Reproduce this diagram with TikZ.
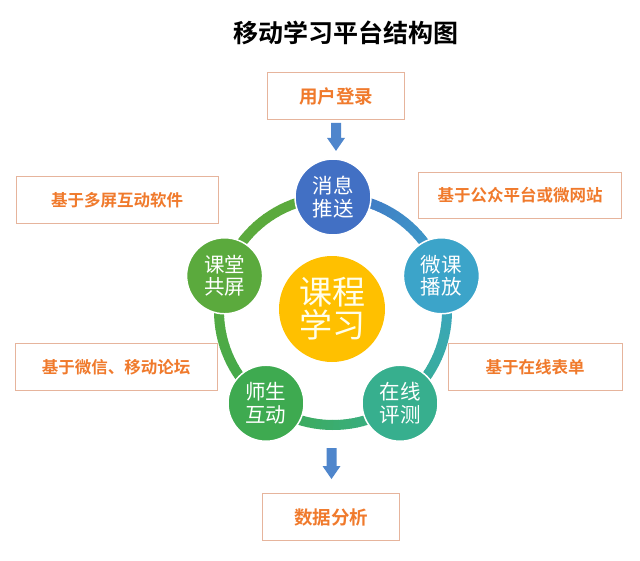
\documentclass[tikz,border=0pt]{standalone}
\usepackage{fontspec}
\usetikzlibrary{calc}
\newfontfamily\cjk{Noto Sans CJK SC}
\newfontfamily\cjkb{Noto Sans CJK SC Bold}
\definecolor{cblue}{HTML}{4270C4}
\definecolor{ccyan}{HTML}{3CA4C9}
\definecolor{cteal}{HTML}{37AF8E}
\definecolor{cgreen}{HTML}{3EAA50}
\definecolor{clime}{HTML}{5BAA3D}
\definecolor{cyel}{HTML}{FFC000}
\definecolor{boxline}{HTML}{E6B49C}
\definecolor{boxtext}{HTML}{F07A2C}
\definecolor{arrowc}{HTML}{4F86CC}
\tikzset{
  labelbox/.style={draw=boxline, line width=0.8pt, fill=white, inner sep=0pt, text=boxtext, font=\cjkb\fontsize{16.5}{18}\selectfont},
  bigbox/.style={labelbox, font=\cjkb\fontsize{18.5}{20}\selectfont},
  ball/.style={circle, draw=white, line width=1.5pt, minimum size=76pt, inner sep=0pt, text=white, align=center, font=\cjk\fontsize{20.5}{22.5}\selectfont},
  blockarrow/.style={fill=arrowc}
}
\begin{document}
\begin{tikzpicture}[x=1pt,y=-1pt]
\useasboundingbox[fill=white] (0,0) rectangle (640,560);
% title
\node[font=\cjkb\fontsize{25}{27}\selectfont, text=black] (title) at (346,33) {移动学习平台结构图};
% ring
\coordinate (c) at (333,311);
\def\R{114}
\foreach \a/\b/\ca/\cb in {-90/-18/cblue/ccyan, -18/54/ccyan/cteal, 54/126/cteal/cgreen, 126/198/cgreen/clime, 198/270/clime/clime}{
  \foreach \i in {0,...,23}{
    \pgfmathsetmacro{\sa}{\a+(\b-\a)*\i/24}
    \pgfmathsetmacro{\ea}{\a+(\b-\a)*(\i+1)/24+0.3}
    \pgfmathtruncatemacro{\pc}{100-100*\i/23}
    \draw[line width=10pt, color=\ca!\pc!\cb] ($(c)+(\sa:\R)$) arc[start angle=\sa, end angle=\ea, radius=\R];
  }
}
% center
\node[circle, fill=cyel, minimum size=106pt, inner sep=0pt, text=white!92!yellow, align=center, font=\cjk\fontsize{33}{33}\selectfont] (core) at ($(c)+(-1,-2)$) {课程\\学习};
% satellites
\node[ball, fill=cblue]  (push)  at ($(c)+(-90:\R)$) {消息\\推送};
\node[ball, fill=ccyan]  (play)  at ($(c)+(-18:\R)$) {微课\\播放};
\node[ball, fill=cteal]  (test)  at ($(c)+(54:\R)$)  {在线\\评测};
\node[ball, fill=cgreen] (talk)  at ($(c)+(126:\R)$) {师生\\互动};
\node[ball, fill=clime]  (share) at ($(c)+(198:\R)$) {课堂\\共屏};
% boxes
\node[bigbox, minimum width=137pt, minimum height=47pt] (login) at (336,96) {用户登录};
\node[bigbox, minimum width=137pt, minimum height=47pt] (data) at (331,517) {数据分析};
\node[labelbox, minimum width=202pt, minimum height=47pt] (multi) at (117,200) {基于多屏互动软件};
\node[labelbox, minimum width=202pt, minimum height=47pt] (wechat) at (116,367) {基于微信、移动论坛};
\node[labelbox, minimum width=203pt, minimum height=46pt] (public) at (520,195) {基于公众平台或微网站};
\node[labelbox, minimum width=174pt, minimum height=47pt] (form) at (535,367) {基于在线表单};
% block arrows
\coordinate (a1) at ($(login.south)+(0,3)$);
\fill[blockarrow] ($(a1)+(-5,0)$) -- ($(a1)+(5,0)$) -- ($(a1)+(5,15)$) -- ($(a1)+(9,15)$) -- ($(a1)+(0,28)$) -- ($(a1)+(-9,15)$) -- ($(a1)+(-5,15)$) -- cycle;
\coordinate (a2) at (331.5,448);
\fill[blockarrow] ($(a2)+(-5,0)$) -- ($(a2)+(5,0)$) -- ($(a2)+(5,18)$) -- ($(a2)+(9,18)$) -- ($(a2)+(0,31)$) -- ($(a2)+(-9,18)$) -- ($(a2)+(-5,18)$) -- cycle;
\end{tikzpicture}
\end{document}
